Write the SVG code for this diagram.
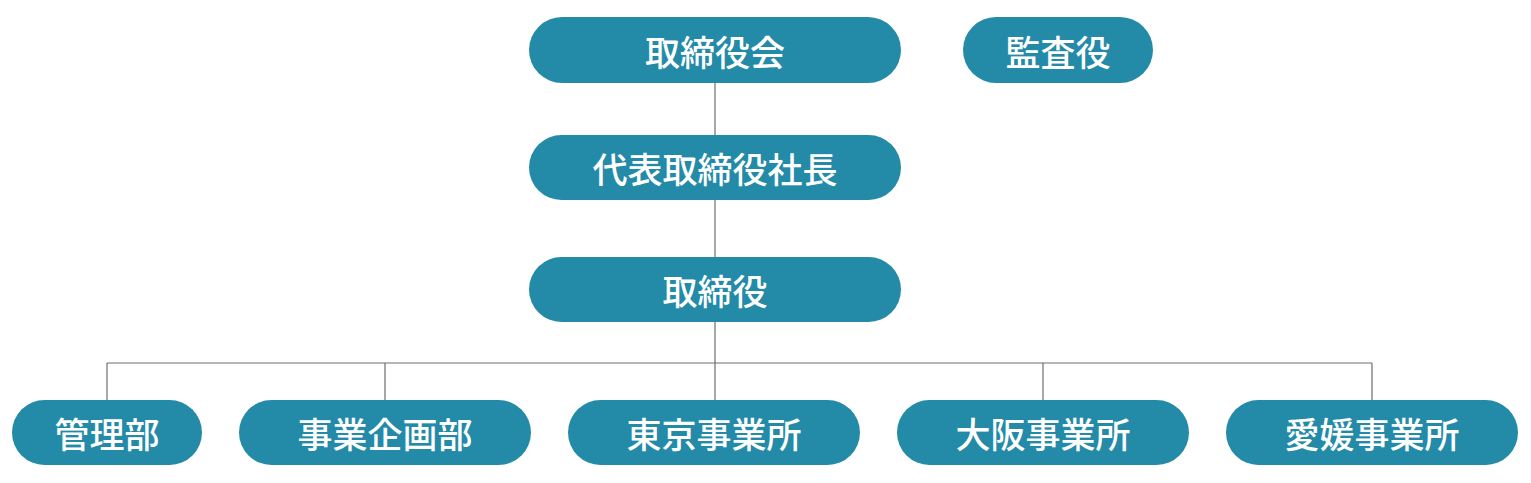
<svg xmlns="http://www.w3.org/2000/svg" width="1531" height="483" viewBox="0 0 1531 483">
<style>
.n{fill:#238aa8}
.t{fill:#fff;font-family:"Noto Sans CJK JP","Noto Sans CJK SC",sans-serif;font-size:35px;font-weight:500;text-anchor:middle;dominant-baseline:central}
.c{stroke:#6e6e6e;stroke-width:1.2;fill:none}
</style>
<rect width="1531" height="483" fill="#fff"/>
<g id="connectors">
<path class="c" d="M715 83V135M715 200V257M715 322V363M107 363H1372M107 363V400M385 363V400M715 363V400M1043 363V400M1372 363V400"/>
</g>
<g id="n1"><rect class="n" x="529" y="17" width="372" height="66" rx="33"/><text class="t" x="715" y="50">取締役会</text></g>
<g id="n2"><rect class="n" x="963" y="17" width="190" height="66" rx="33"/><text class="t" x="1058" y="50">監査役</text></g>
<g id="n3"><rect class="n" x="529" y="135" width="372" height="65" rx="32.5"/><text class="t" x="715" y="167.5">代表取締役社長</text></g>
<g id="n4"><rect class="n" x="529" y="257" width="372" height="65" rx="32.5"/><text class="t" x="715" y="289.5">取締役</text></g>
<g id="n5"><rect class="n" x="12" y="400" width="190" height="65" rx="32.5"/><text class="t" x="107" y="432.5">管理部</text></g>
<g id="n6"><rect class="n" x="239" y="400" width="292" height="65" rx="32.5"/><text class="t" x="385" y="432.5">事業企画部</text></g>
<g id="n7"><rect class="n" x="568" y="400" width="292" height="65" rx="32.5"/><text class="t" x="714" y="432.5">東京事業所</text></g>
<g id="n8"><rect class="n" x="897" y="400" width="292" height="65" rx="32.5"/><text class="t" x="1043" y="432.5">大阪事業所</text></g>
<g id="n9"><rect class="n" x="1226" y="400" width="292" height="65" rx="32.5"/><text class="t" x="1372" y="432.5">愛媛事業所</text></g>
</svg>
